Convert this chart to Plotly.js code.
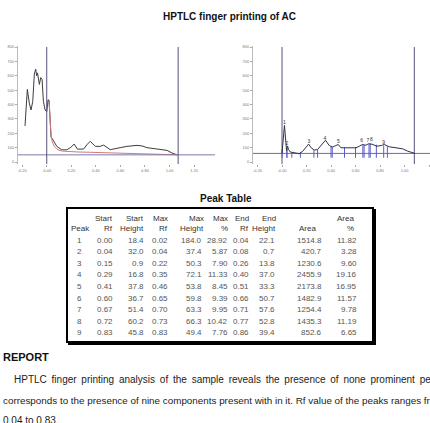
<!DOCTYPE html>
<html>
<head>
<meta charset="utf-8">
<script src="https://cdn.plot.ly/plotly-3.0.1.min.js"></script>
<style>html,body{margin:0;padding:0;background:#fff;}#chart{width:430px;height:423px;}</style>
</head>
<body>
<div id="chart"></div>
<script>
// ---------- DATA ----------
const leftRf = [-0.177,-0.168,-0.158,-0.142,-0.128,-0.114,-0.101,-0.090,-0.082,-0.075,-0.060,-0.049,-0.038,-0.027,-0.013,0.000,0.011,0.019,0.027,0.035,0.046,0.060,0.082,0.122,0.163,0.196,0.223,0.250,0.299,0.332,0.354,0.395,0.435,0.463,0.495,0.517,0.598,0.653,0.735,0.776,0.816,0.870,0.925,0.980,1.020,1.061];
const leftAU = [251,420,505,410,362,421,611,646,600,620,540,587,575,421,362,350,433,430,303,173,161,137,109,85,85,102,125,90,90,125,144,109,109,118,102,86,100,109,116,112,100,93,86,81,63,50];
const leftRedRf = [0.010,0.020,0.028,0.035,0.045,0.060,0.080,0.100,0.130,0.180,0.250,0.350,0.450,0.550,0.650,0.750,0.850,0.950,1.020,1.070];
const leftRedAU = [400,410,290,190,140,110,92,82,76,72,70,68,66,65,63,61,59,56,53,50];
const leftBaseAU = 50;
const leftMarkRf = [0.00, 1.07];

const rightRf = [0.000,0.008,0.014,0.020,0.026,0.031,0.037,0.045,0.053,0.067,0.100,0.140,0.168,0.195,0.217,0.238,0.263,0.290,0.325,0.355,0.385,0.413,0.440,0.459,0.481,0.522,0.563,0.604,0.631,0.655,0.685,0.705,0.735,0.775,0.810,0.835,0.875,0.925,0.985,1.025,1.060,1.085];
const rightAU = [62,120,200,255,190,110,80,112,88,70,64,58,74,106,125,99,83,87,122,152,115,104,115,122,99,99,94,99,110,122,117,127,124,110,115,122,106,99,92,76,64,60];
const rightBaseAU = 60;
const rightMarkRf = [0.00, 1.08];

const peakNo = [1,2,3,4,5,6,7,8,9];
const startRf = [0.00,0.04,0.15,0.29,0.41,0.60,0.67,0.72,0.83];
const startHeight = [18.4,32.0,0.9,16.8,37.8,36.7,51.4,60.2,45.8];
const maxRf = [0.02,0.04,0.22,0.35,0.46,0.65,0.70,0.73,0.83];
const maxHeight = [184.0,37.4,50.3,72.1,53.8,59.8,63.3,66.3,49.4];
const maxPct = [28.92,5.87,7.90,11.33,8.45,9.39,9.95,10.42,7.76];
const endRf = [0.04,0.08,0.26,0.40,0.51,0.66,0.71,0.77,0.86];
const endHeight = [22.1,0.7,13.8,37.0,33.3,50.7,57.6,52.8,39.4];
const area = [1514.8,420.7,1230.6,2455.9,2173.8,1482.9,1254.4,1435.3,852.6];
const areaPct = [11.82,3.28,9.60,19.16,16.95,11.57,9.78,11.19,6.65];

const headTop = ["", "Start","Start","Max","Max","Max","End","End","","Area"];
const headBot = ["Peak","Rf","Height","Rf","Height","%","Rf","Height","Area","%"];

const xTickVals = [-0.2,0,0.2,0.4,0.6,0.8,1.0,1.2];
const xTickText = ["-0.20","-0.00","0.20","0.40","0.60","0.80","1.00","1.20"];
const yTickVals = [0,100,200,300,400,500,600,700,800];

const titleText = "HPTLC finger printing of AC";
const tableTitle = "Peak Table";
const reportHead = "REPORT";
const reportLines = [
  "HPTLC finger printing analysis of the sample reveals the presence of none prominent peaks which",
  "corresponds to the presence of nine components present with in it. Rf value of the peaks ranges from",
  "0.04 to 0.83."
];

// ---------- LAYOUT HELPERS ----------
const W = 430, H = 423;
const px = v => v / W;
const py = v => 1 - v / H;
const SANS = "Liberation Sans, Arial, sans-serif";

const yDom = [py(164.2), py(46.3)];
const leftRange = [-0.234, 1.37];
const rightRange = [-0.237, 1.208];
const yRange = [-15, 805];

const traces = [];
traces.push({x: leftRf, y: leftAU, xaxis:'x', yaxis:'y', mode:'lines', line:{color:'#3d3d3d', width:1}, hoverinfo:'skip'});
traces.push({x: leftRedRf, y: leftRedAU, xaxis:'x', yaxis:'y', mode:'lines', line:{color:'#d07a7a', width:1}, hoverinfo:'skip'});
traces.push({x: leftRange, y: [leftBaseAU, leftBaseAU], xaxis:'x', yaxis:'y', mode:'lines', line:{color:'#7a7aa8', width:1}, hoverinfo:'skip'});
leftMarkRf.forEach(r => traces.push({x:[r,r], y:[yRange[0], 800], xaxis:'x', yaxis:'y', mode:'lines', line:{color:'#55557a', width:1}, hoverinfo:'skip'}));

traces.push({x: rightRange, y: [rightBaseAU, rightBaseAU], xaxis:'x2', yaxis:'y2', mode:'lines', line:{color:'#6a6ab0', width:1}, hoverinfo:'skip'});
rightMarkRf.forEach(r => traces.push({x:[r,r], y:[yRange[0], 800], xaxis:'x2', yaxis:'y2', mode:'lines', line:{color:'#55557a', width:1}, hoverinfo:'skip'}));
const segX = [], segY = [];
peakNo.forEach((p,i) => {
  segX.push(startRf[i], startRf[i], null, endRf[i], endRf[i], null);
  segY.push(30, startHeight[i] + rightBaseAU + 8, null, 30, endHeight[i] + rightBaseAU + 8, null);
});
traces.push({x: segX, y: segY, xaxis:'x2', yaxis:'y2', mode:'lines', line:{color:'#5a5ad0', width:1}, hoverinfo:'skip', connectgaps:false});
traces.push({x: rightRf, y: rightAU, xaxis:'x2', yaxis:'y2', mode:'lines', line:{color:'#30304a', width:1}, hoverinfo:'skip'});
traces.push({x: maxRf, y: maxHeight.map(h => h + rightBaseAU + 10), xaxis:'x2', yaxis:'y2', mode:'text',
  text: peakNo.map(String), textposition:'top center', textfont:{size:5, color:'#333', family:SANS}, hoverinfo:'skip'});

const axCommon = {showgrid:false, zeroline:false, tickfont:{size:4, color:'#777', family:SANS}, ticks:'outside', ticklen:2, tickcolor:'#aaa', fixedrange:true};
const layout = {
  width: W, height: H, margin:{l:0,r:0,t:0,b:0}, paper_bgcolor:'#fff', plot_bgcolor:'rgba(0,0,0,0)', showlegend:false,
  xaxis: Object.assign({}, axCommon, {domain:[px(18), px(215)], range:leftRange, anchor:'y', tickvals:xTickVals, ticktext:xTickText, showline:false}),
  yaxis: Object.assign({}, axCommon, {domain:yDom, range:yRange, anchor:'x', tickvals:yTickVals, showline:true, linecolor:'#bbb', linewidth:1}),
  xaxis2: Object.assign({}, axCommon, {domain:[px(253), 1], range:rightRange, anchor:'y2', tickvals:xTickVals, ticktext:xTickText, showline:false}),
  yaxis2: Object.assign({}, axCommon, {domain:yDom, range:yRange, anchor:'x2', tickvals:yTickVals, showline:true, linecolor:'#bbb', linewidth:1}),
  shapes: [
    {type:'rect', xref:'paper', yref:'paper', x0:px(69), x1:px(375), y0:py(344), y1:py(210), line:{color:'#000', width:2}, fillcolor:'rgba(0,0,0,0)'},
    {type:'rect', xref:'paper', yref:'paper', x0:px(67), x1:px(373), y0:py(342), y1:py(208), line:{color:'#000', width:2}, fillcolor:'#fff'}
  ],
  annotations: []
};
const ann = layout.annotations;
ann.push({text:'<b>'+titleText+'</b>', x:px(229), y:py(17), xref:'paper', yref:'paper', showarrow:false, xanchor:'center', yanchor:'middle', font:{size:10, color:'#111', family:SANS}});
ann.push({text:'<b>'+tableTitle+'</b>', x:px(226), y:py(198), xref:'paper', yref:'paper', showarrow:false, xanchor:'center', yanchor:'middle', font:{size:10, color:'#111', family:SANS}});

const colRight = [92,115,146,170,204,230,251,277,324,359];
const colRightHead = [92,115,146,170,206,230,251,278,318,356];
const cols = [
  peakNo.map(String), startRf.map(v=>v.toFixed(2)), startHeight.map(v=>v.toFixed(1)), maxRf.map(v=>v.toFixed(2)),
  maxHeight.map(v=>v.toFixed(1)), maxPct.map(v=>v.toFixed(2)), endRf.map(v=>v.toFixed(2)), endHeight.map(v=>v.toFixed(1)),
  area.map(v=>v.toFixed(1)), areaPct.map(v=>v.toFixed(2))
];
const tFont = {size:8, color:'#555', family:SANS};
const hFont = {size:8, color:'#333', family:SANS};
headTop.forEach((t,c) => {
  if (t) ann.push({text:t, x:px(colRightHead[c]), y:py(218), xref:'paper', yref:'paper', showarrow:false, xanchor:'right', yanchor:'middle', font:hFont});
  ann.push({text:headBot[c], x:px(colRightHead[c]), y:py(228), xref:'paper', yref:'paper', showarrow:false, xanchor:'right', yanchor:'middle', font:hFont});
});
cols.forEach((col,c) => {
  col.forEach((v,r) => {
    const xr = c === 0 ? 84 : colRight[c];
    ann.push({text:v, x:px(xr), y:py(240 + r*11.6), xref:'paper', yref:'paper', showarrow:false, xanchor:'right', yanchor:'middle', font:tFont});
  });
});

ann.push({text:'<b>'+reportHead+'</b>', x:px(1), y:py(357), xref:'paper', yref:'paper', showarrow:false, xanchor:'left', yanchor:'middle', font:{size:11, color:'#111', family:SANS}});
// approximate the justified paragraph: extra thin spaces on the first line
const justify = [t => t.split(' ').join(' \u2009'), t => t, t => t];
const lineX = [12, 1, 1];
const lineY = [379, 400, 420];
const lineSize = [10, 9.85, 10];
reportLines.forEach((t,i) => ann.push({text:justify[i](t), x:px(lineX[i]), y:py(lineY[i]), xref:'paper', yref:'paper', showarrow:false, xanchor:'left', yanchor:'middle', font:{size:lineSize[i], color:'#222', family:SANS}}));

Plotly.newPlot('chart', traces, layout, {staticPlot:true, displayModeBar:false});
</script>
</body>
</html>
